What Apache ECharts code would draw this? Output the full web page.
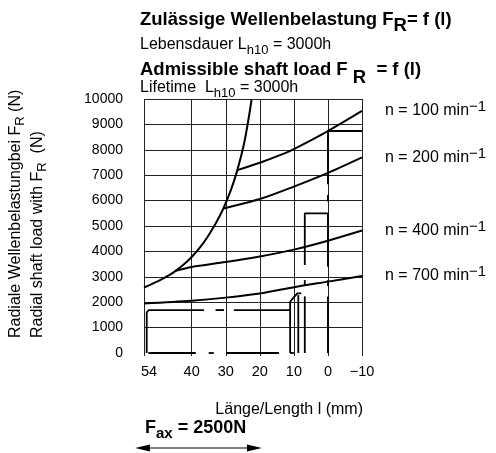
<!DOCTYPE html>
<html>
<head>
<meta charset="utf-8">
<script src="https://cdn.jsdelivr.net/npm/echarts@6/dist/echarts.min.js"></script>
<style>
  html, body { margin: 0; padding: 0; background: #fff; }
  #chart { width: 496px; height: 453px; }
</style>
</head>
<body>
<div id="chart"></div>
<script>
  // axis ticks
  const xTicks = [54, 40, 30, 20, 10, 0, -10]
  const yTicks = [0, 1000, 2000, 3000, 4000, 5000, 6000, 7000, 8000, 9000, 10000]
  const yGridTicks = yTicks.slice(1) // no grid line at 0

  // bearing limit (steep curve), [length mm, load N]
  const limitCurve = [[54, 2580], [50, 2820], [46.6, 3065], [44.7, 3235], [42, 3525], [39.8, 3810],
    [37.5, 4170], [35.4, 4560], [33, 5085], [30.7, 5690], [28.5, 6410], [26.6, 7200],
    [24.6, 8260], [23.2, 9300], [22.4, 10000]]

  // admissible load per speed
  const speeds = ['100', '200', '400', '700']
  const n100 = [[26.6, 7200], [20, 7490], [13.9, 7800], [10, 8030], [0, 8740], [-10, 9530]]
  const n200 = [[30.7, 5690], [20, 6060], [10, 6550], [0, 7090], [-10, 7700]]
  const n400 = [[44.7, 3235], [40, 3390], [30, 3580], [20, 3800], [10, 4070], [0, 4420], [-10, 4820]]
  const n700 = [[54, 1950], [40, 2060], [30, 2180], [20, 2340], [10, 2590], [0, 2810], [-10, 3030]]
  const speedLines = [n100, n200, n400, n700]

  // shaft outline drawn into the chart (broken lines)
  const shaftSegments = [
    [[53.2, 0], [53.2, 1600], [52.6, 1690], [36.4, 1690]],
    [[33, 1690], [30.5, 1690]],
    [[27.6, 1690], [11.1, 1690]],
    [[52.7, 0], [38.8, 0]],
    [[35, 0], [33.5, 0]],
    [[29.8, 0], [14.4, 0]],
    [[11.1, 0], [10, 0]],
    [[11.1, 0], [11.1, 2020], [9.0, 2350], [7.8, 2350]],
    [[8.7, 0], [8.7, 2280]],
    [[6.8, 0], [6.8, 2230]],
    [[6.8, 2680], [6.8, 2870]],
    [[6.8, 3465], [6.8, 5500], [0, 5500], [0, 3400]],
    [[0, 2870], [0, 2640]],
    [[0, 2220], [0, 0]],
    [[0, 5960], [0, 6220]],
    [[0, 6640], [0, 8740], [-10, 8740]]
  ]

  const font = '"Liberation Sans", Arial, Helvetica, sans-serif'

  const chart = echarts.init(document.getElementById('chart'))

  const series = [{
    type: 'line',
    data: limitCurve,
    smooth: 0.3,
    symbol: 'none',
    lineStyle: {color: '#000', width: 2}
  }]

  speedLines.forEach((d, i) => {
    series.push({
      type: 'line',
      data: d,
      smooth: 0.3,
      symbol: 'none',
      lineStyle: {color: '#000', width: 2},
      endLabel: {
        show: true,
        align: 'left',
        distance: -23,
        formatter: '{a|n = ' + speeds[i] + ' min}{s|−1}',
        rich: {
          a: {fontFamily: font, fontSize: 16, color: '#000'},
          s: {fontFamily: font, fontSize: 15, color: '#000', padding: [0, 0, 8, 0]}
        }
      }
    })
  })

  shaftSegments.forEach(seg => {
    series.push({
      type: 'line',
      data: seg,
      symbol: 'none',
      lineStyle: {color: '#000', width: 1.8},
      silent: true
    })
  })

  chart.setOption({
    animation: false,
    backgroundColor: '#fff',
    textStyle: {fontFamily: font},
    grid: {left: 144, right: 134, top: 99, bottom: 100},
    xAxis: {
      type: 'value',
      inverse: true,
      min: -10,
      max: 54,
      axisLine: {show: false},
      axisTick: {show: true, length: 3, customValues: xTicks, lineStyle: {color: '#222'}},
      axisLabel: {
        customValues: xTicks,
        color: '#000',
        fontSize: 14.5,
        margin: 11,
        formatter: v => v === 54 ? '{l|54}' : (v < 0 ? '−' + (-v) : '' + v),
        rich: {l: {fontSize: 14.5, color: '#000', padding: [0, 0, 0, 10]}}
      },
      splitLine: {show: true, lineStyle: {color: '#222', width: 1}}
    },
    yAxis: {
      type: 'value',
      min: 0,
      max: 10000,
      interval: 1000,
      axisLine: {show: false},
      axisTick: {show: true, length: 4, customValues: yGridTicks, lineStyle: {color: '#222'}},
      axisLabel: {customValues: yTicks, color: '#000', fontSize: 14, margin: 21, formatter: v => '' + v},
      splitLine: {show: true, lineStyle: {color: '#222', width: 1}}
    },
    graphic: [
      {
        type: 'text', x: 140, y: 20,
        style: {
          text: '{b|Zulässige Wellenbelastung F}{s|R}{b|= f (l)}',
          align: 'left', verticalAlign: 'middle',
          rich: {
            b: {fontFamily: font, fontSize: 18.5, fontWeight: 'bold', color: '#000'},
            s: {fontFamily: font, fontSize: 18.5, fontWeight: 'bold', color: '#000', padding: [12, 0, 0, 0]}
          }
        }
      },
      {
        type: 'text', x: 140, y: 45,
        style: {
          text: '{a|Lebensdauer L}{s|h10}{a| = 3000h}',
          align: 'left', verticalAlign: 'middle',
          rich: {
            a: {fontFamily: font, fontSize: 16, color: '#000'},
            s: {fontFamily: font, fontSize: 13, color: '#000', padding: [11, 0, 0, 0]}
          }
        }
      },
      {
        type: 'text', x: 140, y: 70,
        style: {
          text: '{b|Admissible shaft load F }{s|R}{b|  = f (l)}',
          align: 'left', verticalAlign: 'middle',
          rich: {
            b: {fontFamily: font, fontSize: 18.5, fontWeight: 'bold', color: '#000'},
            s: {fontFamily: font, fontSize: 18.5, fontWeight: 'bold', color: '#000', padding: [16, 0, 0, 0]}
          }
        }
      },
      {
        type: 'text', x: 140, y: 88,
        style: {
          text: '{a|Lifetime  L}{s|h10}{a| = 3000h}',
          align: 'left', verticalAlign: 'middle',
          rich: {
            a: {fontFamily: font, fontSize: 16, color: '#000'},
            s: {fontFamily: font, fontSize: 13, color: '#000', padding: [10, 0, 0, 0]}
          }
        }
      },
      {
        type: 'text', x: 16, y: 338, rotation: Math.PI / 2,
        style: {
          text: '{a|Radiale Wellenbelastungbei F}{s|R}{a| (N)}',
          align: 'left', verticalAlign: 'middle',
          rich: {
            a: {fontFamily: font, fontSize: 16, color: '#000'},
            s: {fontFamily: font, fontSize: 13, color: '#000', padding: [8, 0, 0, 0]}
          }
        }
      },
      {
        type: 'text', x: 38, y: 338, rotation: Math.PI / 2,
        style: {
          text: '{a|Radial shaft load with F}{s|R}{a|  (N)}',
          align: 'left', verticalAlign: 'middle',
          rich: {
            a: {fontFamily: font, fontSize: 16, color: '#000'},
            s: {fontFamily: font, fontSize: 13, color: '#000', padding: [8, 0, 0, 0]}
          }
        }
      },
      {
        type: 'text', x: 363, y: 410,
        style: {
          text: 'Länge/Length l (mm)', align: 'right', verticalAlign: 'middle',
          fontFamily: font, fontSize: 16, fill: '#000'
        }
      },
      {
        type: 'text', x: 145, y: 428,
        style: {
          text: '{b|F}{s|ax}{b| = 2500N}',
          align: 'left', verticalAlign: 'middle',
          rich: {
            b: {fontFamily: font, fontSize: 18, fontWeight: 'bold', color: '#000'},
            s: {fontFamily: font, fontSize: 15, fontWeight: 'bold', color: '#000', padding: [12, 0, 0, 0]}
          }
        }
      },
      {
        type: 'line', shape: {x1: 140, y1: 448, x2: 257, y2: 448},
        style: {stroke: '#000', lineWidth: 1}
      },
      {
        type: 'polygon', shape: {points: [[135, 448], [150, 444.5], [150, 451.5]]},
        style: {fill: '#000'}
      },
      {
        type: 'polygon', shape: {points: [[262, 448], [247, 444.5], [247, 451.5]]},
        style: {fill: '#000'}
      }
    ],
    series: series
  })
</script>
</body>
</html>
